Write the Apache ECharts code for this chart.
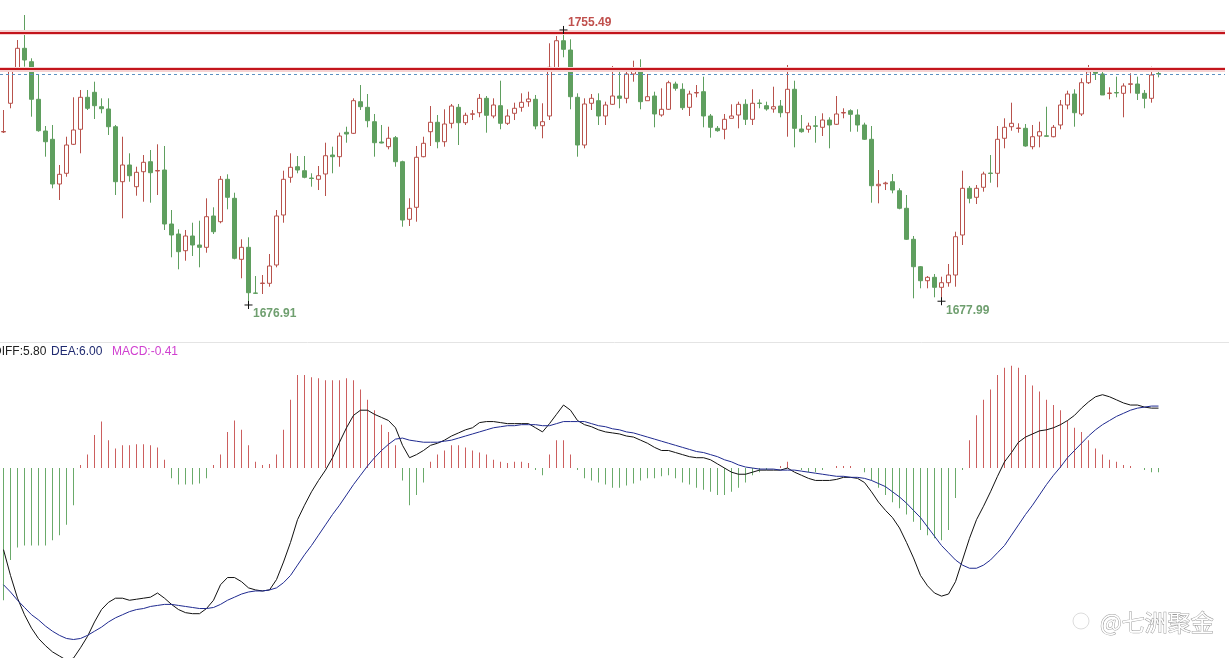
<!DOCTYPE html>
<html><head><meta charset="utf-8">
<script src="https://cdn.jsdelivr.net/npm/echarts@6/dist/echarts.min.js"></script>
<style>html,body{margin:0;padding:0;background:#fff;overflow:hidden}#c{width:1229px;height:658px}</style>
</head><body><div id="c"></div>
<script>
const opens=[1726.34,1734.54,1744.54,1750.25,1746.42,1735.68,1726.62,1724.25,1711.48,1714.54,1722.82,1727.11,1736.25,1737.68,1733.56,1732.91,1727.85,1712.14,1716.91,1710.71,1714.99,1717.85,1715.19,1715.48,1700.05,1697.19,1692.42,1696.62,1694.05,1693.39,1702.34,1700.71,1712.82,1707.39,1689.96,1693.39,1680.34,1683.05,1683.11,1688.34,1702.62,1713.39,1716.42,1715.28,1713.19,1712.82,1714.34,1719.76,1719.28,1726.25,1725.96,1734.99,1733.39,1729.28,1723.48,1722.14,1724.71,1717.85,1701.39,1704.82,1719.28,1726.42,1729.11,1723.56,1728.82,1733.39,1728.99,1731.39,1731.85,1735.96,1730.91,1733.85,1728.82,1731.68,1733.39,1734.99,1735.68,1728.14,1730.91,1744.54,1752.42,1749.76,1736.25,1722.62,1734.54,1735.28,1730.91,1734.25,1736.62,1735.96,1742.91,1744.25,1735.28,1736.62,1731.19,1732.82,1740.05,1738.54,1733.39,1737.48,1737.85,1730.91,1727.39,1727.11,1730.25,1731.19,1734.25,1729.96,1734.62,1733.85,1732.91,1733.76,1731.85,1738.54,1727.19,1727.11,1728.11,1727.68,1729.76,1728.54,1731.76,1732.42,1731.19,1728.34,1724.25,1710.99,1711.56,1712.14,1709.56,1704.54,1695.68,1687.85,1683.85,1684.82,1681.96,1683.28,1685.48,1696.91,1710.25,1707.68,1710.54,1714.62,1714.54,1724.54,1727.85,1727.34,1727.39,1722.14,1725.19,1725.25,1724.99,1728.34,1734.05,1737.19,1731.48,1740.42,1743.56,1742.91,1737.34,1737.62,1737.39,1739.96,1740.05,1737.39,1735.96,1743.05];
const closes=[1726.48,1744.05,1750.25,1746.91,1735.68,1726.71,1723.56,1711.48,1714.25,1722.62,1726.91,1736.25,1733.11,1733.85,1732.99,1727.85,1712.14,1716.91,1713.85,1714.82,1717.68,1714.71,1715.34,1700.05,1696.91,1692.14,1696.62,1694.05,1693.39,1702.14,1697.85,1712.82,1707.68,1690.25,1693.39,1680.42,1680.25,1683.19,1688.05,1702.34,1712.82,1716.25,1715.48,1713.39,1713.05,1713.85,1719.56,1719.28,1725.19,1725.76,1735.28,1733.56,1729.56,1723.28,1723.19,1724.54,1717.85,1701.19,1704.54,1719.11,1723.11,1729.11,1723.56,1728.62,1733.76,1728.99,1731.11,1731.54,1735.96,1731.11,1734.05,1728.82,1730.91,1733.11,1734.82,1735.76,1728.05,1729.28,1744.82,1752.42,1749.96,1736.42,1722.62,1734.34,1735.96,1730.91,1734.05,1736.62,1735.96,1742.91,1744.25,1735.0,1736.42,1731.48,1732.82,1740.42,1738.82,1733.28,1737.19,1737.62,1730.91,1727.68,1726.71,1729.96,1730.91,1734.25,1729.96,1734.54,1734.48,1732.91,1733.56,1731.85,1738.54,1727.39,1726.42,1728.05,1727.96,1729.76,1728.34,1731.48,1731.91,1731.39,1728.34,1724.25,1710.99,1711.39,1711.76,1709.76,1704.54,1695.68,1687.85,1683.85,1684.82,1681.96,1683.28,1685.48,1696.42,1710.25,1707.39,1710.25,1714.34,1714.48,1724.25,1727.68,1728.82,1727.48,1722.34,1724.99,1726.42,1725.11,1727.68,1734.05,1737.19,1731.85,1740.42,1743.56,1743.11,1736.91,1737.48,1737.48,1739.48,1740.11,1737.39,1735.96,1742.62,1742.91];
const highs=[1732.62,1744.82,1752.62,1759.76,1747.39,1742.62,1728.05,1728.34,1716.91,1724.99,1736.25,1738.34,1738.34,1740.71,1735.96,1735.96,1728.34,1724.99,1720.25,1716.42,1719.76,1721.19,1722.82,1722.34,1704.05,1698.54,1698.34,1700.42,1700.99,1707.39,1704.82,1713.76,1714.25,1708.99,1695.68,1696.25,1685.19,1685.48,1691.48,1704.05,1715.28,1720.25,1719.48,1719.48,1714.54,1716.62,1723.28,1722.14,1726.14,1727.85,1735.96,1739.76,1737.19,1731.48,1728.34,1727.85,1725.19,1718.14,1707.39,1722.34,1724.99,1733.76,1731.19,1732.82,1734.34,1734.34,1731.85,1732.62,1737.19,1736.62,1735.96,1740.99,1732.82,1734.71,1737.39,1737.85,1736.91,1734.54,1751.68,1753.76,1755.49,1752.82,1737.39,1735.96,1737.19,1737.39,1735.0,1745.19,1743.85,1743.85,1746.71,1747.11,1742.91,1737.85,1738.82,1740.99,1740.71,1740.25,1738.14,1739.76,1742.14,1731.48,1728.05,1731.48,1734.25,1735.0,1735.68,1738.54,1735.68,1735.0,1739.28,1735.48,1745.48,1740.99,1731.19,1729.0,1730.91,1731.68,1730.54,1736.62,1733.11,1732.82,1732.82,1729.0,1728.05,1715.48,1712.14,1714.34,1710.25,1708.34,1696.62,1688.05,1685.19,1685.76,1684.99,1688.62,1697.85,1715.28,1710.91,1711.19,1714.99,1719.76,1728.05,1730.25,1734.71,1728.82,1728.62,1728.34,1729.28,1733.56,1728.34,1735.48,1738.14,1738.54,1741.68,1745.48,1744.25,1744.25,1739.11,1742.14,1740.25,1743.11,1742.14,1738.34,1744.99,1744.25];
const lows=[1726.05,1733.11,1744.25,1744.99,1730.71,1726.42,1719.28,1710.25,1706.91,1713.56,1722.62,1720.25,1732.62,1730.05,1731.68,1725.48,1708.34,1701.68,1712.14,1708.14,1706.42,1706.14,1708.34,1698.34,1690.54,1687.11,1689.56,1690.91,1687.68,1691.85,1697.19,1700.25,1704.25,1689.96,1684.54,1676.91,1680.05,1680.05,1682.14,1687.68,1700.42,1711.85,1714.54,1713.11,1710.71,1709.76,1708.05,1714.54,1716.42,1723.28,1725.76,1732.62,1727.68,1719.28,1723.11,1721.39,1716.42,1699.28,1699.48,1700.71,1719.11,1722.34,1721.68,1722.14,1727.39,1722.62,1728.34,1729.76,1730.54,1726.14,1730.25,1727.11,1728.34,1729.76,1732.14,1733.56,1727.11,1724.54,1729.76,1744.25,1747.68,1732.82,1719.28,1721.68,1732.62,1728.34,1728.34,1734.05,1733.11,1734.54,1740.71,1732.82,1735.28,1727.68,1730.71,1732.62,1738.14,1732.62,1730.91,1736.25,1727.68,1724.71,1726.42,1724.25,1730.25,1727.39,1728.34,1728.34,1733.11,1732.42,1731.85,1730.54,1724.99,1721.96,1726.14,1726.14,1723.28,1725.19,1721.68,1728.34,1730.25,1726.42,1726.42,1724.05,1706.14,1705.96,1709.76,1708.82,1704.25,1695.48,1678.82,1681.68,1681.68,1679.11,1677.99,1682.14,1682.14,1694.05,1705.96,1705.76,1709.28,1711.85,1710.54,1721.68,1726.71,1726.14,1722.14,1721.39,1721.96,1724.99,1724.82,1727.11,1732.82,1727.85,1730.91,1740.05,1741.19,1736.91,1735.68,1736.25,1730.54,1737.39,1735.48,1733.11,1734.71,1741.96];
const diff=[-7.9,-10.4,-12.6,-14.2,-15.5,-16.5,-17.2,-17.8,-18.2,-18.6,-18.4,-17.4,-16.3,-14.9,-13.7,-13.0,-12.6,-12.6,-12.8,-12.7,-12.6,-12.5,-12.1,-12.6,-13.2,-13.7,-14.0,-14.1,-14.1,-13.6,-12.8,-11.3,-10.6,-10.6,-11.0,-11.6,-11.8,-11.9,-11.8,-10.8,-9.1,-7.2,-5.0,-3.6,-2.3,-1.2,-0.2,1.0,2.5,3.9,5.1,5.6,5.6,5.2,4.9,4.6,3.9,2.2,1.0,1.3,1.7,2.2,2.4,2.7,3.1,3.4,3.7,3.9,4.4,4.5,4.5,4.4,4.3,4.3,4.3,4.3,3.9,3.5,4.3,5.2,6.1,5.6,4.6,4.2,4.0,3.7,3.5,3.4,3.3,3.1,3.0,2.7,2.4,2.0,1.7,1.7,1.5,1.3,1.1,1.0,1.0,0.8,0.4,0.0,-0.4,-0.6,-0.6,-0.4,-0.2,-0.2,-0.2,-0.2,0.0,-0.4,-0.7,-1.0,-1.2,-1.2,-1.2,-1.1,-0.9,-0.9,-1.0,-1.4,-2.3,-3.3,-4.1,-4.8,-5.8,-7.2,-8.7,-10.4,-11.4,-12.1,-12.4,-12.2,-11.0,-8.9,-6.8,-5.0,-3.7,-2.3,-0.8,0.6,1.5,2.5,3.0,3.3,3.6,3.7,3.9,4.2,4.6,5.1,5.8,6.4,6.9,7.1,6.9,6.6,6.3,6.1,6.1,5.9,5.8,5.80];
const dea=[-11.3,-12.0,-12.8,-13.5,-14.2,-14.7,-15.3,-15.8,-16.2,-16.5,-16.6,-16.5,-16.2,-15.8,-15.4,-14.9,-14.5,-14.2,-13.9,-13.7,-13.6,-13.4,-13.3,-13.2,-13.2,-13.3,-13.4,-13.5,-13.6,-13.6,-13.5,-13.2,-12.8,-12.5,-12.2,-12.0,-11.9,-11.9,-11.8,-11.6,-11.1,-10.4,-9.4,-8.4,-7.5,-6.5,-5.5,-4.5,-3.6,-2.6,-1.6,-0.7,0.2,1.0,1.7,2.3,2.8,2.9,2.7,2.6,2.5,2.5,2.5,2.6,2.7,2.9,3.1,3.3,3.5,3.7,3.9,4.0,4.1,4.1,4.2,4.2,4.2,4.1,4.1,4.3,4.5,4.5,4.5,4.5,4.3,4.1,4.0,3.8,3.7,3.5,3.4,3.2,3.0,2.8,2.6,2.4,2.2,2.0,1.8,1.6,1.5,1.3,1.1,0.8,0.6,0.3,0.1,0.0,-0.1,-0.1,-0.1,-0.2,-0.2,-0.2,-0.3,-0.4,-0.5,-0.6,-0.7,-0.8,-0.8,-0.9,-0.9,-1.0,-1.2,-1.5,-1.8,-2.3,-2.8,-3.4,-4.1,-4.8,-5.7,-6.6,-7.5,-8.2,-8.9,-9.4,-9.7,-9.7,-9.4,-8.9,-8.2,-7.5,-6.5,-5.5,-4.5,-3.6,-2.6,-1.6,-0.7,0.1,1.0,1.7,2.4,3.1,3.7,4.2,4.6,5.0,5.3,5.6,5.8,5.9,6.0,6.00];
const macd=[-12.8,-8.9,-7.7,-7.5,-7.5,-7.5,-7.5,-7.0,-6.5,-5.5,-3.6,0.3,1.3,3.2,4.5,2.7,1.9,2.2,2.2,2.3,2.3,2.2,2.0,0.8,-1.0,-1.6,-1.6,-1.6,-1.5,-1.0,0.3,1.3,3.5,4.6,3.7,2.2,0.6,0.3,0.4,1.3,3.7,6.6,9.0,9.0,8.8,8.7,8.5,8.5,8.5,8.7,8.5,7.6,6.6,5.6,4.2,3.5,2.2,-1.2,-3.6,-2.6,-1.4,0.6,1.3,1.7,2.2,2.2,2.0,1.7,1.5,1.3,0.8,0.6,0.5,0.6,0.6,0.5,-0.2,-0.7,1.3,2.7,2.7,1.3,-0.2,-1.0,-1.2,-1.4,-1.6,-1.9,-1.9,-1.7,-1.5,-1.2,-1.0,-1.0,-0.8,-0.7,-1.0,-1.4,-1.6,-1.9,-2.1,-2.3,-2.6,-2.6,-2.3,-1.9,-1.4,-0.7,-0.4,-0.2,0.0,0.2,0.6,0.0,-0.2,-0.4,-0.4,-0.2,0.0,0.2,0.2,0.2,0.0,-0.4,-1.2,-1.9,-2.6,-3.3,-3.9,-4.5,-5.2,-6.0,-6.5,-6.8,-7.0,-6.0,-2.9,-0.2,2.7,5.1,6.6,7.6,9.0,9.7,9.9,9.7,9.0,8.0,7.4,6.6,6.1,5.6,4.6,3.9,3.5,2.7,1.9,1.3,0.8,0.6,0.3,0.2,0.0,-0.2,-0.4,-0.41];
const resistanceLevels=[1754.82,1744.34];
const highMark={index:80,value:1755.49};
const lowMarks=[{index:35,value:1676.91},{index:134,value:1677.99}];
const emptySlots=9;
const categories=Array.from({length:opens.length+emptySlots},(_,i)=>String(i+1));
const lastClose=closes[closes.length-1];

const candles=opens.map((o,i)=>[o,closes[i],lows[i],highs[i]]);
const chart=echarts.init(document.getElementById('c'),null,{renderer:'canvas'});
const crossSym='path://M0,5L10,5M5,0L5,10';
const lblFont={fontFamily:'Liberation Sans, Arial, sans-serif',fontSize:12,fontWeight:'bold'};
chart.setOption({
  animation:false,
  backgroundColor:'#ffffff',
  grid:[{left:0,width:1225,top:0,height:340},{left:0,width:1225,top:360,height:298}],
  xAxis:[{type:'category',data:categories,gridIndex:0,show:false},{type:'category',data:categories,gridIndex:1,show:false}],
  yAxis:[{gridIndex:0,min:1666.91,max:1764.05,show:false},{gridIndex:1,min:-18.39,max:10.46,show:false}],
  series:[
    {type:'candlestick',xAxisIndex:0,yAxisIndex:0,data:candles,barWidth:5,
     itemStyle:{color:'#ffffff',color0:'#5f9f5f',borderColor:'#b8524c',borderColor0:'#5f9f5f',borderWidth:1},
     markLine:{silent:true,symbol:'none',label:{show:false},data:[
       {yAxis:resistanceLevels[0],lineStyle:{color:'#f6d2d2',width:5,type:'solid'}},
       {yAxis:resistanceLevels[0],lineStyle:{color:'#c3151c',width:2,type:'solid'}},
       {yAxis:resistanceLevels[1],lineStyle:{color:'#f6d2d2',width:5,type:'solid'}},
       {yAxis:resistanceLevels[1],lineStyle:{color:'#c3151c',width:2,type:'solid'}},
       {yAxis:lastClose,lineStyle:{color:'#5b8fc0',width:1,type:[3,3]}}
     ]},
     markPoint:{silent:true,symbol:crossSym,symbolSize:8,
       itemStyle:{color:'none',borderColor:'#111',borderWidth:1},
       data:[
        {coord:[highMark.index,highMark.value],value:highMark.value.toFixed(2),
         label:Object.assign({show:true,position:'right',distance:0,offset:[-2,-7],color:'#c0504d',formatter:'{c}'},lblFont)},
        ...lowMarks.map(m=>({coord:[m.index,m.value],value:m.value.toFixed(2),
         label:Object.assign({show:true,position:'right',distance:0,offset:[-2,9],color:'#6f9f6f',formatter:'{c}'},lblFont)}))
       ]}
    },
    {type:'bar',xAxisIndex:1,yAxisIndex:1,data:macd,barWidth:1,
     itemStyle:{color:p=>p.value>=0?'#cc5f5f':'#6aaa6a'}},
    {type:'line',xAxisIndex:1,yAxisIndex:1,data:diff,showSymbol:false,lineStyle:{color:'#111111',width:1},itemStyle:{color:'#111'}},
    {type:'line',xAxisIndex:1,yAxisIndex:1,data:dea,showSymbol:false,lineStyle:{color:'#1f2a90',width:1},itemStyle:{color:'#1f2a90'}}
  ],
  graphic:[
    {type:'line',shape:{x1:0,y1:342.5,x2:1229,y2:342.5},style:{stroke:'#e4e4e4',lineWidth:1},silent:true},
    {type:'text',x:-7,y:352,style:{text:'DIFF:'+diff[diff.length-1].toFixed(2),fill:'#222',font:'12px Liberation Sans, Arial, sans-serif',textVerticalAlign:'middle'}},
    {type:'text',x:51,y:352,style:{text:'DEA:'+dea[dea.length-1].toFixed(2),fill:'#1f2a70',font:'12px Liberation Sans, Arial, sans-serif',textVerticalAlign:'middle'}},
    {type:'text',x:112,y:352,style:{text:'MACD:'+macd[macd.length-1].toFixed(2),fill:'#d040d0',font:'12px Liberation Sans, Arial, sans-serif',textVerticalAlign:'middle'}},
    {type:'circle',shape:{cx:1081,cy:621,r:8},style:{fill:'none',stroke:'#dddddd',lineWidth:1},silent:true},
    {type:'text',x:1100,y:622,style:{text:'@七洲聚金',fill:'#ffffff',stroke:'#9a9a9a',lineWidth:1,font:'23px Noto Sans CJK SC, sans-serif',textVerticalAlign:'middle'}}
  ]
});
</script></body></html>
